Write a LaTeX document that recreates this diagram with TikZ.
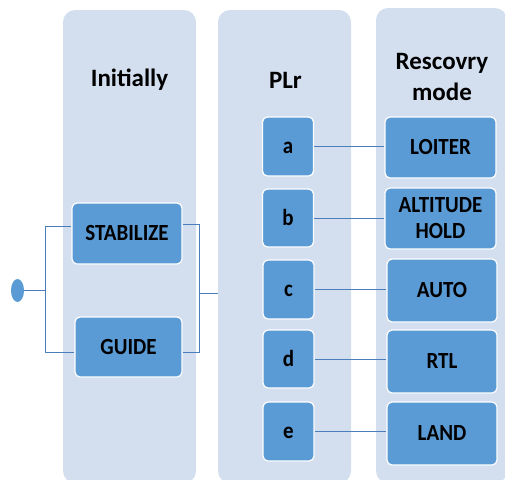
\documentclass[tikz,border=0pt]{standalone}
\usepackage{fontspec}
\setmainfont{Carlito}
\usetikzlibrary{positioning,shapes.geometric}
\definecolor{colbg}{RGB}{211,222,239}
\definecolor{boxfill}{RGB}{91,155,213}
\definecolor{linec}{RGB}{74,126,187}
\newcommand{\boxtxt}[1]{\raisebox{-2pt}[\height][\depth]{\scalebox{1}[1.1]{\begin{tabular}{@{}c@{}}#1\end{tabular}}}}
\begin{document}
\begin{tikzpicture}[x=1pt,y=-1pt,
  column/.style={fill=colbg,draw=none,rounded corners=12pt},
  modebox/.style={fill=boxfill,draw=white,line width=1.2pt,rounded corners=5pt,
    font=\bfseries\fontsize{21}{24}\selectfont,align=center,inner sep=0pt},
  title/.style={font=\bfseries\fontsize{25}{31}\selectfont,align=center,inner sep=0pt},
  conn/.style={draw=linec,line width=1pt}]
\useasboundingbox (0,0) rectangle (505,479);
% columns
\fill[column] (63,10) rectangle (196,483);
\fill[column] (218,10) rectangle (351,483);
\fill[column] (376,8) rectangle (507,483);
% titles
\node[title] (t1) at (129.5,80) {Initially};
\node[title] (t2) at (285.5,80) {PLr};
\node[title] (t3) at (442,77) {Rescovry\\mode};
% left column boxes
\node[modebox,minimum width=110pt,minimum height=61pt] (stab) at (127,233.5) {\boxtxt{STABILIZE}};
\node[modebox,minimum width=107pt,minimum height=60pt] (guide) at (128.5,347) {\boxtxt{GUIDE}};
% start ellipse
\node[ellipse,fill=boxfill,draw=none,minimum width=13pt,minimum height=23pt,inner sep=0pt] (start) at (17.5,290.5) {};
% PLr boxes
\node[modebox,minimum width=51pt,minimum height=59pt] (a) at (288,146.5) {\boxtxt{a}};
\node[modebox,minimum width=51pt,minimum height=58pt] (b) at (288,218) {\boxtxt{b}};
\node[modebox,minimum width=51pt,minimum height=59pt] (c) at (288.5,289.5) {\boxtxt{c}};
\node[modebox,minimum width=51pt,minimum height=58pt] (d) at (288.5,359) {\boxtxt{d}};
\node[modebox,minimum width=51pt,minimum height=59pt] (e) at (288.5,431.5) {\boxtxt{e}};
% recovery boxes
\node[modebox,minimum width=111pt,minimum height=61pt] (loiter) at (440.5,147.5) {\boxtxt{LOITER}};
\node[modebox,minimum width=111pt,minimum height=61pt] (alt) at (440.5,218.5) {\boxtxt{ALTITUDE\\HOLD}};
\node[modebox,minimum width=110pt,minimum height=63pt] (auto) at (442,290.5) {\boxtxt{AUTO}};
\node[modebox,minimum width=110pt,minimum height=63pt] (rtl) at (442,361.5) {\boxtxt{RTL}};
\node[modebox,minimum width=110pt,minimum height=63pt] (land) at (442,433.5) {\boxtxt{LAND}};
% connectors
\coordinate (lsplit) at (45,290.5);
\coordinate (rjoin) at (199,293);
\coordinate (col2in) at (218,293);
\draw[conn] (start.east) -- (lsplit);
\draw[conn] (lsplit |- 0,226) -- (lsplit |- 0,352);
\draw[conn] (lsplit |- 0,226) -- (stab.west |- 0,226);
\draw[conn] (lsplit |- 0,352) -- (guide.west |- 0,352);
\draw[conn] (stab.east |- 0,224) -- (rjoin |- 0,224) -- (rjoin |- 0,352) -- (guide.east |- 0,352);
\draw[conn] (rjoin) -- (col2in);
\draw[conn] (a.east) -- (loiter.west |- a.east);
\draw[conn] (b.east) -- (alt.west |- b.east);
\draw[conn] (c.east) -- (auto.west |- c.east);
\draw[conn] (d.east) -- (rtl.west |- d.east);
\draw[conn] (e.east) -- (land.west |- e.east);
\end{tikzpicture}
\end{document}
